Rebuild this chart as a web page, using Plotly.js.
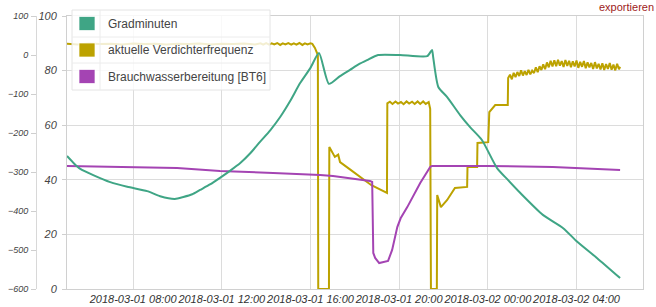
<!DOCTYPE html>
<html><head><meta charset="utf-8">
<script src="https://cdn.plot.ly/plotly-3.0.1.min.js"></script>
<style>html,body{margin:0;padding:0;background:#fff;overflow:hidden}#chart{width:656px;height:307px}</style>
</head><body><div id="chart"></div>
<script>
const D1 = '2018-03-01 ', D2 = '2018-03-02 ';
const seriesNames = ['Gradminuten', 'aktuelle Verdichterfrequenz', 'Brauchwasserbereitung [BT6]'];
const seriesColors = ['#3fa585', '#bca200', '#a444b3'];
const exportLabel = 'exportieren';
const xRange = [D1 + '05:01', D2 + '07:00'];
const innerRange = [0, 100];
const outerRange = [-600, 100];

// Gradminuten (outer axis)
const gradTimes = [D1+'05:01',D1+'05:20',D1+'05:37',D1+'06:12',D1+'06:58',D1+'07:44',D1+'08:38',D1+'09:13',D1+'09:53',D1+'10:16',D1+'10:40',D1+'11:01',D1+'11:28',D1+'11:55',D1+'12:22',D1+'12:50',D1+'13:17',D1+'13:44',D1+'14:11',D1+'14:38',D1+'15:05',D1+'15:32',D1+'16:00',D1+'16:23',D1+'16:50',D1+'17:20',D1+'17:47',D1+'18:10',D1+'18:33',D1+'19:03',D1+'20:02',D1+'21:16',D1+'21:29',D1+'21:32',D1+'21:46',D1+'22:10',D1+'22:45',D1+'23:12',D1+'23:44',D2+'00:25',D2+'00:55',D2+'01:28',D2+'02:29',D2+'03:24',D2+'04:02',D2+'04:56',D2+'05:58'];
const gradValues = [-259,-278,-292,-308,-326,-338,-349,-362,-369,-364,-357,-346,-332,-315,-297,-277,-252,-222,-193,-159,-118,-72,-33,5,-74,-54,-38,-24,-13,0,0,-3,13,-5,-82,-108,-154,-185,-218,-290,-321,-354,-410,-444,-479,-521,-572];

// aktuelle Verdichterfrequenz (inner axis)
const freqTimes = [D1+'05:01',D1+'05:30',D1+'06:00',D1+'06:30',D1+'07:00',D1+'07:30',D1+'08:00',D1+'08:30',D1+'09:00',D1+'09:30',D1+'10:00',D1+'10:30',D1+'11:00',D1+'11:30',D1+'12:00',D1+'12:30',D1+'13:00',D1+'13:30',D1+'13:45',D1+'13:52',D1+'14:00',D1+'14:08',D1+'14:15',D1+'14:22',D1+'14:30',D1+'14:38',D1+'14:45',D1+'14:52',D1+'15:00',D1+'15:08',D1+'15:15',D1+'15:22',D1+'15:30',D1+'15:38',D1+'15:45',D1+'15:52',D1+'16:00',D1+'16:05',D1+'16:12',D1+'16:20',D1+'16:21',D1+'16:50',D1+'16:51',D1+'17:06',D1+'17:15',D1+'17:20',D1+'17:45',D1+'18:14',D1+'18:45',D1+'19:27',D1+'19:28',D1+'19:35',D1+'19:42',D1+'19:50',D1+'19:57',D1+'20:05',D1+'20:12',D1+'20:20',D1+'20:27',D1+'20:35',D1+'20:42',D1+'20:50',D1+'20:57',D1+'21:05',D1+'21:12',D1+'21:20',D1+'21:24',D1+'21:26',D1+'21:42',D1+'21:43',D1+'21:53',D1+'22:10',D1+'22:31',D1+'23:04',D1+'23:05',D1+'23:31',D1+'23:32',D2+'00:01',D2+'00:04',D2+'00:20',D2+'00:54',D2+'00:55',D2+'01:00',D2+'01:05',D2+'01:10',D2+'01:15',D2+'01:20',D2+'01:25',D2+'01:30',D2+'01:35',D2+'01:40',D2+'01:45',D2+'01:50',D2+'01:55',D2+'02:00',D2+'02:05',D2+'02:10',D2+'02:15',D2+'02:20',D2+'02:25',D2+'02:30',D2+'02:35',D2+'02:40',D2+'02:45',D2+'02:50',D2+'02:55',D2+'03:00',D2+'03:05',D2+'03:10',D2+'03:15',D2+'03:20',D2+'03:25',D2+'03:30',D2+'03:35',D2+'03:40',D2+'03:45',D2+'03:50',D2+'03:55',D2+'04:00',D2+'04:05',D2+'04:10',D2+'04:15',D2+'04:20',D2+'04:25',D2+'04:30',D2+'04:35',D2+'04:40',D2+'04:45',D2+'04:50',D2+'04:55',D2+'05:00',D2+'05:05',D2+'05:10',D2+'05:15',D2+'05:20',D2+'05:25',D2+'05:30',D2+'05:35',D2+'05:40',D2+'05:45',D2+'05:50',D2+'05:55',D2+'05:58'];
const freqValues = [89.8,89.6,89.9,89.7,89.8,89.6,89.9,89.7,89.8,89.6,89.8,89.7,89.9,89.6,89.8,89.7,89.9,89.6,90.0,89.5,90.1,89.5,90.0,89.6,90.1,89.4,90.0,89.6,90.1,89.5,90.0,89.5,90.1,89.4,90.0,89.6,90.0,89.8,88.3,85.7,0,0,52,48.4,49.2,46.5,44,41,38,35.2,68.0,68.6,67.8,68.7,67.9,68.5,67.7,68.7,67.9,68.6,67.8,68.7,67.8,68.7,67.8,68.5,66,0,0,34.4,30,32.6,37,37.4,44.7,44.7,53.5,53.8,64.8,67.4,67.4,77.3,78.5,76.8,79.2,77.6,79.5,78.0,80.1,78.2,79.8,78.4,80.3,78.6,80.0,79.1,81.2,79.4,81.6,80.2,82.3,80.5,83.0,81.2,83.6,81.5,83.8,81.6,84.0,81.8,83.5,81.3,83.9,81.7,83.6,81.2,83.4,81.5,83.7,81.0,83.2,81.4,83.5,80.9,83.0,81.2,82.8,80.6,83.1,80.8,82.5,80.4,82.7,80.2,82.4,80.6,82.8,80.3,82.2,80.1,82.5,80.5,81.4];

// Brauchwasserbereitung [BT6] (inner axis)
const bt6Times = [D1+'05:01',D1+'07:44',D1+'09:59',D1+'11:55',D1+'13:25',D1+'14:19',D1+'16:26',D1+'17:01',D1+'18:41',D1+'18:47',D1+'18:50',D1+'18:55',D1+'19:06',D1+'19:30',D1+'19:41',D1+'19:55',D1+'20:04',D1+'20:22',D1+'20:57',D1+'21:24',D1+'21:29',D1+'23:58',D2+'02:56',D2+'04:29',D2+'05:58'];
const bt6Values = [45.1,44.7,44.3,43.2,42.9,42.5,41.8,41.4,39.6,39.2,13.2,11.4,9.5,10.3,14.3,22.7,25.9,30,38.8,44.7,45.1,45.1,44.7,44.0,43.6];

// pixel -> paper helpers for the hand-made legend box
const PL = 36, PR = 643, PT = 16, PB = 289;
const px = v => (v - PL) / (PR - PL);
const py = v => (PB - v) / (PB - PT);

const traces = [
  {x: freqTimes, y: freqValues, name: seriesNames[1], type: 'scatter', mode: 'lines', yaxis: 'y', line: {color: seriesColors[1], width: 2}},
  {x: bt6Times, y: bt6Values, name: seriesNames[2], type: 'scatter', mode: 'lines', yaxis: 'y', line: {color: seriesColors[2], width: 2}},
  {x: gradTimes, y: gradValues, name: seriesNames[0], type: 'scatter', mode: 'lines', yaxis: 'y2', line: {color: seriesColors[0], width: 2, shape: 'spline', smoothing: 0.6}}
];

const rowTops = [10, 37, 63, 90];
const shapes = [
  {type: 'rect', xref: 'paper', yref: 'paper', x0: px(72), x1: px(270), y0: py(90), y1: py(10), fillcolor: 'rgba(255,255,255,0.82)', line: {color: '#e4e4e4', width: 1}, layer: 'above'},
  {type: 'line', xref: 'paper', yref: 'paper', x0: px(100), x1: px(100), y0: py(90), y1: py(10), line: {color: '#ececec', width: 1}, layer: 'above'},
  {type: 'line', xref: 'paper', yref: 'paper', x0: px(72), x1: px(270), y0: py(37), y1: py(37), line: {color: '#ececec', width: 1}, layer: 'above'},
  {type: 'line', xref: 'paper', yref: 'paper', x0: px(72), x1: px(270), y0: py(63), y1: py(63), line: {color: '#ececec', width: 1}, layer: 'above'}
];
const annotations = [];
seriesNames.forEach((n, i) => {
  const c = (rowTops[i] + rowTops[i + 1]) / 2;
  shapes.push({type: 'rect', xref: 'paper', yref: 'paper', x0: px(79), x1: px(95), y0: py(c + 7), y1: py(c - 7), fillcolor: seriesColors[i], line: {color: 'rgba(255,255,255,0.7)', width: 1}, layer: 'above'});
  annotations.push({xref: 'paper', yref: 'paper', x: px(106), y: py(c), xanchor: 'left', yanchor: 'middle', text: n, showarrow: false, font: {family: 'Liberation Sans, Arial, sans-serif', size: 12, color: '#444'}});
});
annotations.push({xref: 'paper', yref: 'paper', x: px(655), y: py(0), xanchor: 'right', yanchor: 'top', text: exportLabel, showarrow: false, borderpad: 0, font: {family: 'Liberation Sans, Arial, sans-serif', size: 11, color: '#9e1b1b'}});

const italic = (size, color) => ({family: 'Liberation Sans, Arial, sans-serif', size: size, color: color, style: 'italic'});

const layout = {
  width: 656, height: 307,
  margin: {l: PL, r: 656 - PR, t: PT, b: 307 - PB, pad: 0},
  paper_bgcolor: '#fff', plot_bgcolor: '#fff',
  showlegend: false,
  xaxis: {
    type: 'date', domain: [px(67), 1], range: xRange,
    tick0: D1 + '00:00', dtick: 4 * 3600 * 1000, tickformat: '%Y-%m-%d %H:%M',
    tickangle: 0,
    showgrid: true, gridcolor: '#dcdcdc', gridwidth: 1, zeroline: false,
    showline: true, mirror: true, linecolor: '#d0d0d0', linewidth: 1,
    ticks: '', tickfont: italic(11, '#333')
  },
  yaxis: {
    range: innerRange, dtick: 20, anchor: 'x',
    showgrid: true, gridcolor: '#dcdcdc', zeroline: false,
    showline: true, mirror: true, linecolor: '#d0d0d0',
    ticks: 'outside', ticklen: 4, tickcolor: '#cfcfcf',
    tickfont: italic(11, '#444'), ticklabelstandoff: 3
  },
  yaxis2: {
    range: outerRange, dtick: 100, overlaying: 'y', side: 'left', anchor: 'free', position: 0,
    showgrid: false, zeroline: false, showline: true, linecolor: '#d8d8d8',
    ticks: 'outside', ticklen: 5, tickcolor: '#cfcfcf',
    tickfont: italic(9, '#444'), ticklabelstandoff: 1
  },
  shapes: shapes,
  annotations: annotations
};

Plotly.newPlot('chart', traces, layout, {displayModeBar: false, staticPlot: true});
</script>
</body></html>
